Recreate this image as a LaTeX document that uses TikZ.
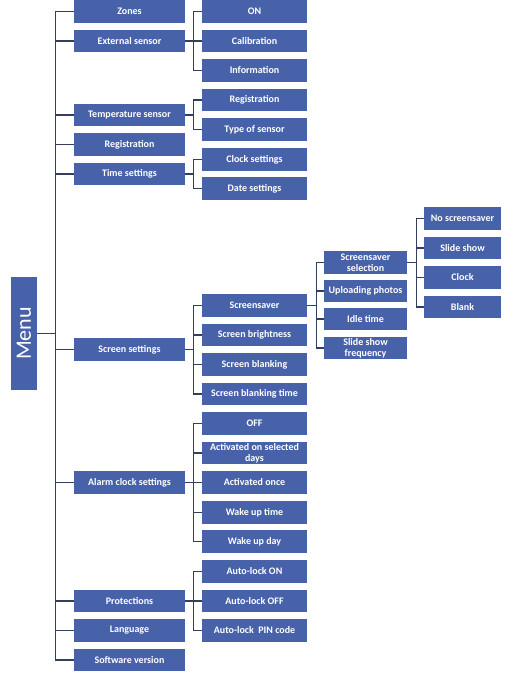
\documentclass[tikz,border=0pt]{standalone}
\usepackage{fontspec}
\setmainfont{Carlito}
\definecolor{boxblue}{HTML}{4862AA}
\definecolor{linecol}{HTML}{34405A}
\begin{document}
\begin{tikzpicture}[x=1pt,y=-1pt,
  box/.style={rectangle,fill=boxblue,text=white,inner sep=0pt,minimum height=22.5pt,
    font=\fontsize{10}{11}\selectfont\bfseries,align=center},
  cA/.style={box,minimum width=111pt},
  cB/.style={box,minimum width=105pt},
  cC/.style={box,minimum width=83pt},
  cD/.style={box,minimum width=77pt},
  conn/.style={draw=linecol,line width=1.1pt}]
\useasboundingbox (0,0) rectangle (508,679);
% Menu
\node[rectangle,fill=boxblue,text=white,minimum width=26pt,minimum height=113pt,inner sep=0pt] (menu) at (24,333.5) {};
\node[text=white,rotate=90,font=\fontsize{22}{24}\selectfont,inner sep=0pt] (menutext) at (menu.center) {Menu};
% column 1
\node[cA] (zones) at (129.5,11.5) {Zones};
\node[cA] (ext) at (129.5,41) {External sensor};
\node[cA] (temp) at (129.5,115) {Temperature sensor};
\node[cA] (reg) at (129.5,144.5) {Registration};
\node[cA] (time) at (129.5,174) {Time settings};
\node[cA] (screen) at (129.5,349.5) {Screen settings};
\node[cA] (alarm) at (129.5,482.5) {Alarm clock settings};
\node[cA] (prot) at (129.5,601) {Protections};
\node[cA] (lang) at (129.5,630.5) {Language};
\node[cA] (soft) at (129.5,660) {Software version};
% column 2
\node[cB] (on) at (254.5,11.5) {ON};
\node[cB] (calib) at (254.5,41) {Calibration};
\node[cB] (info) at (254.5,70.5) {Information};
\node[cB] (treg) at (254.5,100) {Registration};
\node[cB] (ttype) at (254.5,129.5) {Type of sensor};
\node[cB] (clockset) at (254.5,159.5) {Clock settings};
\node[cB] (dateset) at (254.5,188.5) {Date settings};
\node[cB] (ssaver) at (254.5,305.5) {Screensaver};
\node[cB] (sbright) at (254.5,335) {Screen brightness};
\node[cB] (sblank) at (254.5,364.5) {Screen blanking};
\node[cB] (sblankt) at (254.5,394) {Screen blanking time};
\node[cB] (aoff) at (254.5,423.5) {OFF};
\node[cB] (asel) at (254.5,453) {Activated on selected\\days};
\node[cB] (aonce) at (254.5,482.5) {Activated once};
\node[cB] (wtime) at (254.5,512.5) {Wake up time};
\node[cB] (wday) at (254.5,541.5) {Wake up day};
\node[cB] (alon) at (254.5,571.5) {Auto-lock ON};
\node[cB] (aloff) at (254.5,601) {Auto-lock OFF};
\node[cB] (alpin) at (254.5,630.5) {Auto-lock\ \ PIN code};
% column 3
\node[cC] (ssel) at (365.5,262.5) {Screensaver\\selection};
\node[cC] (upl) at (365.5,291) {Uploading photos};
\node[cC] (idle) at (365.5,319) {Idle time};
\node[cC] (sfreq) at (365.5,348) {Slide show\\frequency};
% column 4
\node[cD] (nos) at (462.5,218.5) {No screensaver};
\node[cD] (slide) at (462.5,248) {Slide show};
\node[cD] (clk) at (462.5,277.5) {Clock};
\node[cD] (blank) at (462.5,307) {Blank};
% connectors
\foreach \c in {zones,ext,temp,reg,time,screen,alarm,prot,lang,soft}
  \draw[conn] (menu.east) -- ++(18,0) |- (\c.west);
\foreach \c in {on,calib,info}
  \draw[conn] (ext.east) -- ++(8.5,0) |- (\c.west);
\foreach \c in {treg,ttype}
  \draw[conn] (temp.east) -- ++(8.5,0) |- (\c.west);
\foreach \c in {clockset,dateset}
  \draw[conn] (time.east) -- ++(8.5,0) |- (\c.west);
\foreach \c in {ssaver,sbright,sblank,sblankt}
  \draw[conn] (screen.east) -- ++(8.5,0) |- (\c.west);
\foreach \c in {aoff,asel,aonce,wtime,wday}
  \draw[conn] (alarm.east) -- ++(8.5,0) |- (\c.west);
\foreach \c in {alon,aloff,alpin}
  \draw[conn] (prot.east) -- ++(8.5,0) |- (\c.west);
\foreach \c in {ssel,upl,idle,sfreq}
  \draw[conn] (ssaver.east) -- ++(9,0) |- (\c.west);
\foreach \c in {nos,slide,clk,blank}
  \draw[conn] (ssel.east) -- ++(9,0) |- (\c.west);
\end{tikzpicture}
\end{document}
